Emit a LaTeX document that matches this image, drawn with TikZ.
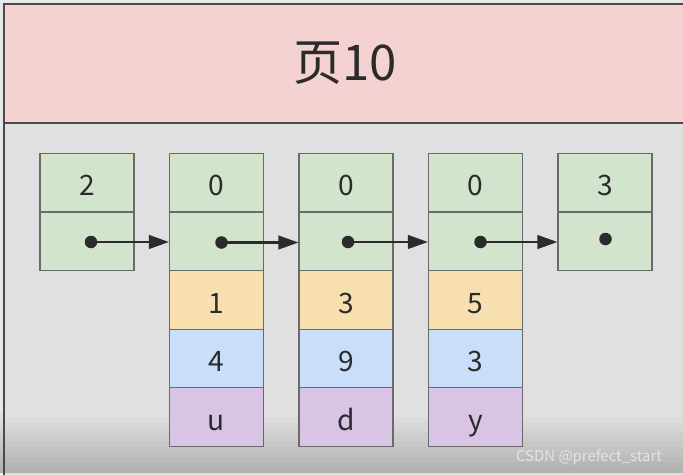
\documentclass[tikz,border=0pt]{standalone}
\usepackage{fontspec}
\setmainfont{Noto Sans CJK SC}
\usepackage{tikz}
\usetikzlibrary{calc, shapes, arrows.meta}
\definecolor{outerbg}{HTML}{E8E8E8}
\definecolor{bodygray}{HTML}{E0E0E0}
\definecolor{bodydark}{HTML}{ACACAC}
\definecolor{headpink}{HTML}{F4D2D2}
\definecolor{frameline}{HTML}{4A4A4A}
\definecolor{cellline}{HTML}{6A6A6A}
\definecolor{cellgreen}{HTML}{D3E4CD}
\definecolor{cellorange}{HTML}{F7DFB0}
\definecolor{cellblue}{HTML}{C9DEF8}
\definecolor{cellpurple}{HTML}{DAC4E6}
\definecolor{inkdark}{HTML}{2B2B2B}
\definecolor{markgray}{HTML}{E4E4E4}
\tikzstyle{cell} = [rectangle, draw=cellline, line width=0.6pt, minimum width=1.88cm, minimum height=1.17cm, inner sep=0pt, text height=15pt, text depth=0.2pt, text=inkdark, font=\fontsize{16}{16}\selectfont]
\tikzstyle{nodecell} = [cell, fill=cellgreen]
\tikzstyle{keycell} = [cell, fill=cellorange]
\tikzstyle{numcell} = [cell, fill=cellblue]
\tikzstyle{charcell} = [cell, fill=cellpurple]
\tikzstyle{dot} = [circle, fill=inkdark, inner sep=0pt, minimum size=0.25cm]
\tikzstyle{link} = [-{Triangle[length=0.4cm, width=0.27cm]}, line width=1.4pt, draw=inkdark]

\begin{document}
\begin{tikzpicture}[x=0.02cm, y=-0.02cm]
        \path[use as bounding box, fill=outerbg] (0, 0) rectangle (683, 474);
        \node[rectangle, minimum width=13.64cm, minimum height=7.14cm, fill=bodygray] at (345, 301.5) (body) {};
        \foreach \i in {0,...,11}
            \fill[color=bodygray!\fpeval{100-8*\i}!bodydark] (-2, 412+5*\i) rectangle (690, 418+5*\i);
        \node[rectangle, draw=frameline, line width=0.9pt, minimum width=13.64cm, minimum height=7.14cm] at (345, 301.5) (bodyframe) {};
        \node[rectangle, draw=frameline, line width=0.9pt, minimum width=13.64cm, minimum height=2.38cm, fill=headpink, text=inkdark, font=\fontsize{28}{28}\selectfont] at (345, 63.5) (page) {页10};

        \node[nodecell] at (87, 182.5) (head_n) {2};
        \node[nodecell] at (87, 241.5) (head_p) {};

        \node[nodecell] at (216.5, 182.5) (rec1_n) {0};
        \node[nodecell] at (216.5, 241.5) (rec1_p) {};
        \node[keycell] at (216.5, 300) (rec1_k) {1};
        \node[numcell] at (216.5, 358.5) (rec1_v) {4};
        \node[charcell] at (216.5, 417) (rec1_c) {u};

        \node[nodecell] at (346, 182.5) (rec2_n) {0};
        \node[nodecell] at (346, 241.5) (rec2_p) {};
        \node[keycell] at (346, 300) (rec2_k) {3};
        \node[numcell] at (346, 358.5) (rec2_v) {9};
        \node[charcell] at (346, 417) (rec2_c) {d};

        \node[nodecell] at (475.5, 182.5) (rec3_n) {0};
        \node[nodecell] at (475.5, 241.5) (rec3_p) {};
        \node[keycell] at (475.5, 300) (rec3_k) {5};
        \node[numcell] at (475.5, 358.5) (rec3_v) {3};
        \node[charcell] at (475.5, 417) (rec3_c) {y};

        \node[nodecell] at (605, 182.5) (tail_n) {3};
        \node[nodecell] at (605, 241.5) (tail_p) {};

        \node[dot] at (91, 242) (head_dot) {};
        \node[dot] at (221.5, 242.5) (rec1_dot) {};
        \node[dot] at (348, 242) (rec2_dot) {};
        \node[dot] at (480.5, 242) (rec3_dot) {};
        \node[dot] at (605.5, 239) (tail_dot) {};

        \draw[link] (head_dot.center) -- (head_dot.center -| rec1_p.west);
        \draw[link] (rec1_dot.center) -- (rec1_dot.center -| rec2_p.west);
        \draw[link] (rec2_dot.center) -- (rec2_dot.center -| rec3_p.west);
        \draw[link] (rec3_dot.center) -- (rec3_dot.center -| tail_p.west);

        \node[text=markgray, font=\fontsize{8.5}{8.5}\selectfont] at (589, 457) (mark) {CSDN @prefect\_start};
    \end{tikzpicture}
\end{document}
